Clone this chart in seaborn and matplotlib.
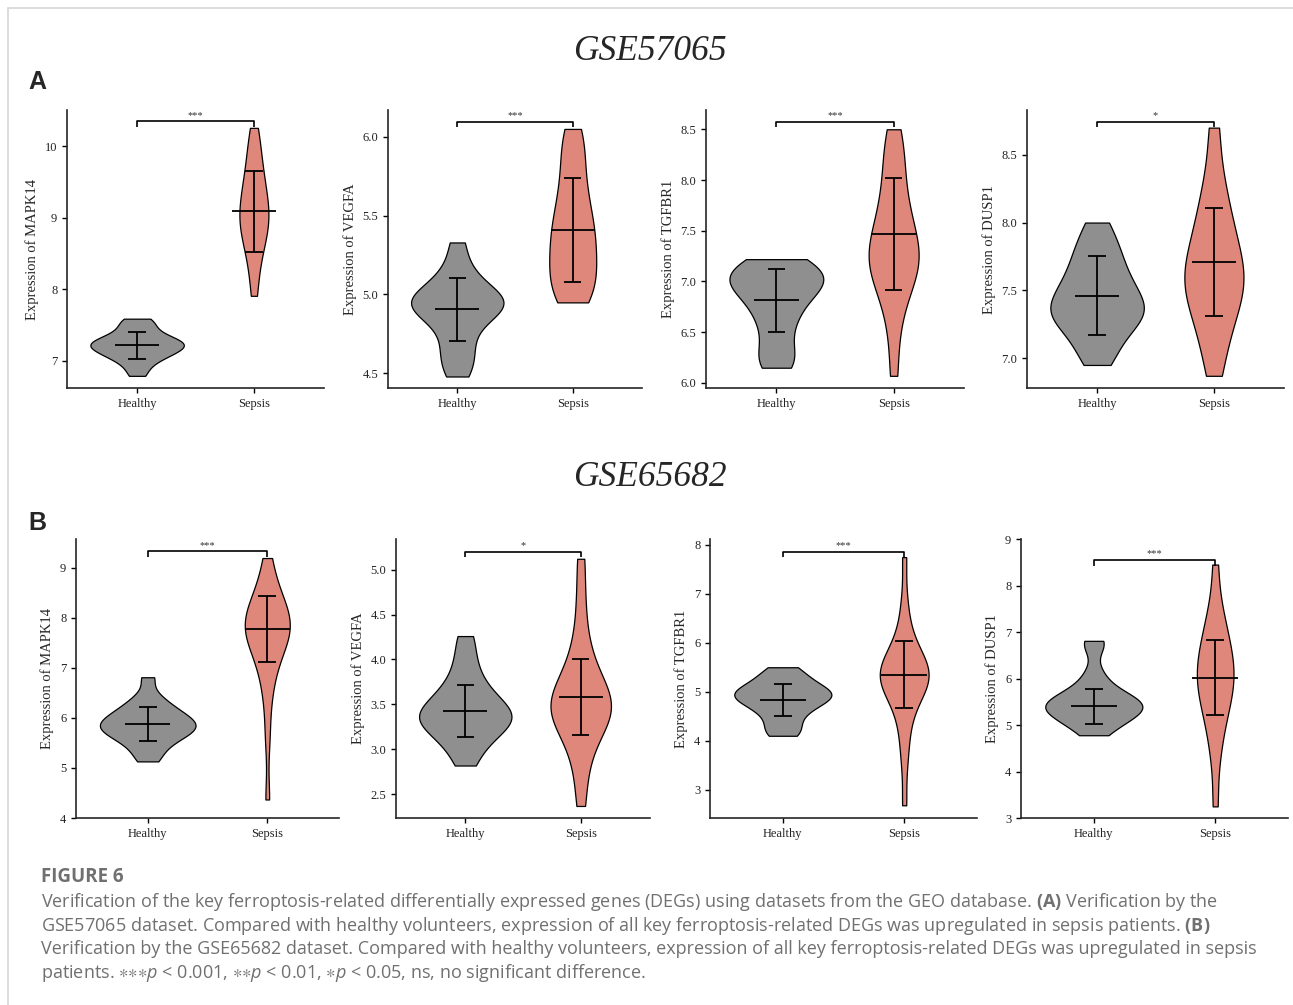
import matplotlib
matplotlib.use("Agg")
import matplotlib.pyplot as plt
import pandas as pd
import seaborn as sns
from matplotlib.lines import Line2D

# ---- data ----
genes = ["MAPK14", "VEGFA", "TGFBR1", "DUSP1"]
groups = ["Healthy", "Sepsis"]

# GSE57065 (panel A)
h57_mapk14 = [6.79, 6.9, 6.98, 7.03, 7.07, 7.1, 7.13, 7.15, 7.18, 7.2, 7.22, 7.24, 7.26, 7.28, 7.3, 7.33, 7.37, 7.42, 7.48, 7.55, 7.59]
s57_mapk14 = [7.91, 8.2, 8.4, 8.55, 8.65, 8.75, 8.82, 8.9, 8.97, 9.03, 9.1, 9.17, 9.25, 9.33, 9.42, 9.52, 9.62, 9.75, 9.9, 10.05, 10.26]
h57_vegfa = [4.48, 4.55, 4.62, 4.68, 4.76, 4.82, 4.86, 4.89, 4.91, 4.93, 4.95, 4.96, 4.98, 5.0, 5.03, 5.07, 5.12, 5.2, 5.33]
s57_vegfa = [4.95, 4.98, 5.02, 5.07, 5.12, 5.17, 5.22, 5.27, 5.32, 5.37, 5.42, 5.47, 5.53, 5.6, 5.68, 5.77, 5.87, 5.97, 6.05]
h57_tgfbr1 = [6.15, 6.2, 6.3, 6.42, 6.55, 6.65, 6.72, 6.8, 6.86, 6.91, 6.95, 6.98, 7.01, 7.04, 7.08, 7.12, 7.16, 7.2, 7.22]
s57_tgfbr1 = [6.07, 6.45, 6.7, 6.85, 6.95, 7.03, 7.1, 7.15, 7.2, 7.25, 7.3, 7.36, 7.42, 7.5, 7.58, 7.67, 7.78, 7.9, 8.05, 8.2, 8.35, 8.5]
h57_dusp1 = [6.95, 7.05, 7.13, 7.2, 7.25, 7.29, 7.32, 7.35, 7.38, 7.42, 7.46, 7.5, 7.55, 7.6, 7.66, 7.73, 7.8, 7.88, 8.0]
s57_dusp1 = [6.87, 7.05, 7.18, 7.28, 7.36, 7.43, 7.49, 7.54, 7.59, 7.64, 7.7, 7.76, 7.83, 7.91, 8.0, 8.1, 8.22, 8.4, 8.7]

# GSE65682 (panel B)
h65_mapk14 = [5.13, 5.3, 5.45, 5.55, 5.62, 5.68, 5.73, 5.78, 5.82, 5.86, 5.9, 5.95, 6.0, 6.06, 6.13, 6.2, 6.3, 6.45, 6.81]
s65_mapk14 = [4.37, 5.6, 6.3, 6.7, 6.95, 7.15, 7.3, 7.42, 7.52, 7.6, 7.67, 7.74, 7.8, 7.86, 7.92, 7.99, 8.06, 8.14, 8.23, 8.33, 8.45, 8.62, 8.85, 9.19]
h65_vegfa = [2.82, 2.98, 3.08, 3.15, 3.21, 3.26, 3.3, 3.33, 3.36, 3.4, 3.44, 3.48, 3.53, 3.59, 3.66, 3.75, 3.88, 4.05, 4.26]
s65_vegfa = [2.37, 2.7, 2.92, 3.08, 3.18, 3.26, 3.32, 3.37, 3.41, 3.45, 3.49, 3.53, 3.58, 3.63, 3.69, 3.76, 3.85, 3.96, 4.12, 4.35, 4.7, 5.12]
h65_tgfbr1 = [4.1, 4.2, 4.35, 4.5, 4.62, 4.7, 4.77, 4.83, 4.88, 4.92, 4.96, 5.0, 5.05, 5.11, 5.18, 5.27, 5.38, 5.5]
s65_tgfbr1 = [2.68, 3.55, 4.0, 4.35, 4.6, 4.8, 4.93, 5.03, 5.1, 5.16, 5.22, 5.27, 5.32, 5.37, 5.42, 5.48, 5.54, 5.6, 5.68, 5.78, 5.92, 6.1, 6.4, 6.85, 7.75]
h65_dusp1 = [4.78, 4.95, 5.05, 5.12, 5.2, 5.26, 5.31, 5.36, 5.4, 5.44, 5.48, 5.53, 5.58, 5.65, 5.75, 5.9, 6.15, 6.7, 6.81]
s65_dusp1 = [3.25, 4.2, 4.7, 5.0, 5.25, 5.45, 5.6, 5.75, 5.88, 6.0, 6.12, 6.25, 6.38, 6.52, 6.68, 6.85, 7.05, 7.3, 7.65, 8.45]

# mean and SD crosshairs
mean57_h = [7.215, 4.907, 6.815, 7.46]
sd57_h = [0.195, 0.2, 0.31, 0.29]
mean57_s = [9.09, 5.41, 7.47, 7.71]
sd57_s = [0.56, 0.33, 0.55, 0.40]
mean65_h = [5.87, 3.425, 4.83, 5.40]
sd65_h = [0.34, 0.29, 0.33, 0.37]
mean65_s = [7.77, 3.58, 5.35, 6.02]
sd65_s = [0.66, 0.42, 0.68, 0.80]

# significance labels and bracket heights
stars57 = ["***", "***", "***", "*"]
stars65 = ["***", "*", "***", "***"]
bracket57 = [10.35, 6.095, 8.576, 8.743]
bracket65 = [9.33, 5.2, 7.86, 8.55]

# ---- layout ----
W, H = 1293, 1005
fig = plt.figure(figsize=(W / 100, H / 100), dpi=100)
sns.set_style("ticks")
plt.rcParams["font.family"] = ["Liberation Serif", "DejaVu Serif"]

gray = "#8f8f8f"
salmon = "#df877a"

rows = [
    dict(top=110, bottom=388,
         xs=[(67, 324), (388, 642), (706, 964), (1027, 1284)],
         ylims=[(6.62, 10.51), (4.407, 6.17), (5.95, 8.69), (6.78, 8.83)],
         ticks=[[7, 8, 9, 10], [4.5, 5.0, 5.5, 6.0], [6.0, 6.5, 7.0, 7.5, 8.0, 8.5], [7.0, 7.5, 8.0, 8.5]],
         fmt=["{:.0f}", "{:.1f}", "{:.1f}", "{:.1f}"],
         healthy=[h57_mapk14, h57_vegfa, h57_tgfbr1, h57_dusp1],
         sepsis=[s57_mapk14, s57_vegfa, s57_tgfbr1, s57_dusp1],
         mh=mean57_h, sh=sd57_h, ms=mean57_s, ss=sd57_s,
         stars=stars57, br=bracket57),
    dict(top=539, bottom=818,
         xs=[(76, 339), (396, 650), (710, 977), (1021, 1288)],
         ylims=[(4.0, 9.57), (2.236, 5.34), (2.42, 8.12), (3.0, 9.0)],
         ticks=[[4, 5, 6, 7, 8, 9], [2.5, 3.0, 3.5, 4.0, 4.5, 5.0], [3, 4, 5, 6, 7, 8], [3, 4, 5, 6, 7, 8, 9]],
         fmt=["{:.0f}", "{:.1f}", "{:.0f}", "{:.0f}"],
         healthy=[h65_mapk14, h65_vegfa, h65_tgfbr1, h65_dusp1],
         sepsis=[s65_mapk14, s65_vegfa, s65_tgfbr1, s65_dusp1],
         mh=mean65_h, sh=sd65_h, ms=mean65_s, ss=sd65_s,
         stars=stars65, br=bracket65),
]

for row in rows:
    for i, gene in enumerate(genes):
        x0, x1 = row["xs"][i]
        ax = fig.add_axes([x0 / W, 1 - row["bottom"] / H, (x1 - x0) / W, (row["bottom"] - row["top"]) / H])
        df = pd.DataFrame({
            "group": ["Healthy"] * len(row["healthy"][i]) + ["Sepsis"] * len(row["sepsis"][i]),
            "value": row["healthy"][i] + row["sepsis"][i],
        })
        sns.violinplot(data=df, x="group", y="value", hue="group", order=groups, hue_order=groups,
                       palette=[gray, salmon], saturation=1, inner=None, cut=0,
                       density_norm="area", common_norm=True, bw_adjust=0.75,
                       linewidth=0.9, linecolor="black", legend=False, ax=ax)
        # mean +/- SD crosshair
        for k, (m, s) in enumerate([(row["mh"][i], row["sh"][i]), (row["ms"][i], row["ss"][i])]):
            ax.hlines(m, k - 0.19, k + 0.19, color="black", lw=1.3, zorder=5)
            ax.vlines(k, m - s, m + s, color="black", lw=1.3, zorder=5)
            ax.hlines([m - s, m + s], k - 0.075, k + 0.075, color="black", lw=1.3, zorder=5)
        # significance bracket
        lo, hi = row["ylims"][i]
        y = row["br"][i]
        tip = 0.02 * (hi - lo)
        ax.plot([0, 0, 1, 1], [y - tip, y, y, y - tip], color="black", lw=1.2, solid_capstyle="butt")
        ax.text(0.5, y + 0.005 * (hi - lo), row["stars"][i], ha="center", va="bottom", fontsize=7.5, color="#333333")

        ax.set_xlim(-0.6, 1.6)
        ax.set_ylim(lo, hi)
        ax.set_yticks(row["ticks"][i])
        ax.set_yticklabels([row["fmt"][i].format(t) for t in row["ticks"][i]])
        ax.set_xlabel("")
        ax.set_ylabel("Expression of " + gene, fontsize=10.5, labelpad=4)
        ax.tick_params(labelsize=9, length=3.5, width=1, colors="black", labelcolor="#222222")
        for sp in ["left", "bottom"]:
            ax.spines[sp].set_linewidth(1.2)
        sns.despine(ax=ax)

# dataset titles and panel letters
fig.text(650 / W, 1 - 52 / H, "GSE57065", ha="center", va="center", fontsize=25.5, style="italic",
         family="Liberation Serif")
fig.text(650 / W, 1 - 478 / H, "GSE65682", ha="center", va="center", fontsize=25.5, style="italic",
         family="Liberation Serif")
fig.text(28 / W, 1 - 82 / H, "A", ha="left", va="center", fontsize=18, weight="bold", family="Liberation Sans")
fig.text(28 / W, 1 - 523 / H, "B", ha="left", va="center", fontsize=18, weight="bold", family="Liberation Sans")

# caption
plt.rcParams["mathtext.fontset"] = "custom"
plt.rcParams["mathtext.rm"] = "Open Sans"
plt.rcParams["mathtext.bf"] = "Open Sans:bold"
plt.rcParams["mathtext.it"] = "Open Sans:italic"
plt.rcParams["mathtext.fallback"] = "stix"
cap_color = "#707070"
cap_font = ["Open Sans", "DejaVu Sans"]
fig.text(41 / W, 1 - 877 / H, "FIGURE 6", ha="left", va="center", fontsize=13.5, weight="bold",
         color=cap_color, family=cap_font)
caption_lines = [
    r"Verification of the key ferroptosis-related differentially expressed genes (DEGs) using datasets from the GEO database. $\mathbf{(A)}$ Verification by the",
    r"GSE57065 dataset. Compared with healthy volunteers, expression of all key ferroptosis-related DEGs was upregulated in sepsis patients. $\mathbf{(B)}$",
    r"Verification by the GSE65682 dataset. Compared with healthy volunteers, expression of all key ferroptosis-related DEGs was upregulated in sepsis",
    r"patients. ${\ast}{\ast}{\ast}\mathit{p}$ < 0.001, ${\ast}{\ast}\mathit{p}$ < 0.01, ${\ast}\mathit{p}$ < 0.05, ns, no significant difference.",
]
for j, line in enumerate(caption_lines):
    fig.text(41 / W, 1 - (902 + 23.5 * j) / H, line, ha="left", va="center", fontsize=13.0,
             color=cap_color, family=cap_font)

# light frame around the figure
fig.add_artist(Line2D([8 / W, 1], [1 - 8 / H, 1 - 8 / H], transform=fig.transFigure, color="#d6d6d6", lw=1.2))
fig.add_artist(Line2D([8 / W, 8 / W], [0, 1 - 8 / H], transform=fig.transFigure, color="#d6d6d6", lw=1.2))

fig.savefig("out.png", dpi=100)
